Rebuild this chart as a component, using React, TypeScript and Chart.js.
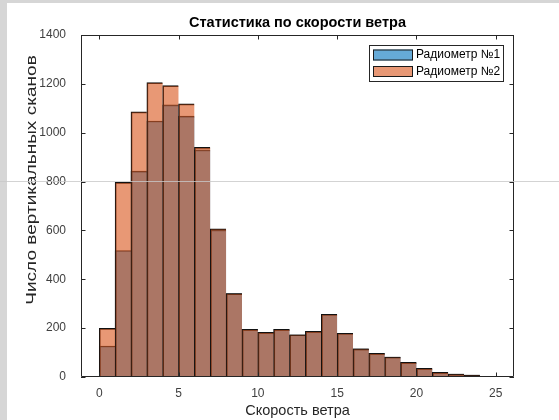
import { useEffect, useRef } from 'react';
import { Chart, registerables } from 'chart.js';

Chart.register(...registerables);

const binCenters = [0.5, 1.5, 2.5, 3.5, 4.5, 5.5, 6.5, 7.5, 8.5, 9.5, 10.5, 11.5, 12.5, 13.5, 14.5, 15.5, 16.5, 17.5, 18.5, 19.5, 20.5, 21.5, 22.5, 23.5, 24.5];
const radiometer1 = [127, 518, 843, 1048, 1114, 1068, 930, 602, 341, 195, 183, 195, 173, 187, 257, 179, 115, 97, 82, 60, 35, 19, 12, 8, 1];
const radiometer2 = [199, 797, 1085, 1205, 1193, 1118, 940, 607, 341, 195, 183, 195, 173, 187, 257, 179, 115, 97, 82, 60, 35, 19, 12, 8, 1];
const seriesLabels = ['Радиометр №1', 'Радиометр №2'];
const xTicks = [0, 5, 10, 15, 20, 25];
const yTicks = [0, 200, 400, 600, 800, 1000, 1200, 1400];
const titleText = 'Статистика по скорости ветра';
const xLabel = 'Скорость ветра';
const yLabel = 'Число вертикальных сканов';

const FONT = '"Liberation Sans", Arial, sans-serif';
const AXIS_COLOR = '#262626';

const matlabPlugin = {
  id: 'matlabDecor',
  afterDatasetsDraw(chart: any) {
    const { ctx, chartArea } = chart;
    const { left, right, top, bottom } = chartArea;
    const xs = chart.scales.x;
    const ys = chart.scales.y;
    const tl = 4.5;
    ctx.save();
    ctx.strokeStyle = AXIS_COLOR;
    ctx.lineWidth = 1;
    ctx.beginPath();
    ctx.rect(left + 0.5, top + 0.5, right - left - 1, bottom - top - 1);
    ctx.stroke();
    ctx.beginPath();
    for (const v of xTicks) {
      const px = Math.round(xs.getPixelForValue(v)) + 0.5;
      ctx.moveTo(px, bottom);
      ctx.lineTo(px, bottom - tl);
      ctx.moveTo(px, top);
      ctx.lineTo(px, top + tl);
    }
    for (const v of yTicks) {
      const py = Math.round(ys.getPixelForValue(v)) + 0.5;
      ctx.moveTo(left, py);
      ctx.lineTo(left + tl, py);
      ctx.moveTo(right, py);
      ctx.lineTo(right - tl, py);
    }
    ctx.stroke();
    ctx.restore();
  },
  afterDraw(chart: any) {
    const { ctx, chartArea } = chart;
    const cx = (chartArea.left + chartArea.right) / 2;
    ctx.save();
    // title
    ctx.fillStyle = '#000';
    ctx.font = `bold 14.5px ${FONT}`;
    ctx.textAlign = 'center';
    ctx.textBaseline = 'middle';
    ctx.fillText(titleText, cx, 23);
    // x label
    ctx.fillStyle = AXIS_COLOR;
    ctx.font = `14.5px ${FONT}`;
    ctx.fillText(xLabel, cx, 411);
    // y label
    ctx.save();
    ctx.translate(32, 180);
    ctx.rotate(-Math.PI / 2);
    ctx.scale(1.36, 1);
    ctx.font = `14px ${FONT}`;
    ctx.fillText(yLabel, 0, 0);
    ctx.restore();
    // legend
    const bx = 369, by = 45, bw = 134, bh = 36;
    ctx.fillStyle = '#fff';
    ctx.fillRect(bx, by, bw, bh);
    ctx.strokeStyle = AXIS_COLOR;
    ctx.lineWidth = 1;
    ctx.strokeRect(bx + 0.5, by + 0.5, bw, bh);
    const ds = chart.data.datasets;
    const rows = [55, 71.5];
    ds.forEach((d: any, i: number) => {
      const sy = rows[i] - 5.5;
      ctx.fillStyle = '#fff';
      ctx.fillRect(373, sy, 40, 11);
      ctx.fillStyle = d.backgroundColor;
      ctx.fillRect(373, sy, 40, 11);
      ctx.strokeStyle = '#1a1a1a';
      ctx.strokeRect(373.5, sy + 0.5, 39, 10);
      ctx.fillStyle = '#000';
      ctx.font = `12px ${FONT}`;
      ctx.textAlign = 'left';
      ctx.textBaseline = 'middle';
      ctx.fillText(d.label, 416, rows[i]);
    });
    ctx.restore();
  },
};

export default function App() {
  const ref = useRef<HTMLCanvasElement | null>(null);
  useEffect(() => {
    if (!ref.current) return;
    const lastIdx = binCenters.length - 1;
    const border = (c: any) =>
      c.dataIndex === lastIdx
        ? { left: 1, top: 1, right: 1, bottom: 0 }
        : { left: 1, top: 1, right: 0, bottom: 0 };
    const chart = new Chart(ref.current, {
      type: 'bar',
      data: {
        datasets: [
          {
            label: seriesLabels[0],
            data: binCenters.map((x, i) => ({ x, y: radiometer1[i] })),
            backgroundColor: 'rgba(0,114,189,0.6)',
            borderColor: '#111',
            borderWidth: border as any,
            borderSkipped: false,
            order: 2,
            grouped: false,
            barPercentage: 1,
            categoryPercentage: 1,
          },
          {
            label: seriesLabels[1],
            data: binCenters.map((x, i) => ({ x, y: radiometer2[i] })),
            backgroundColor: 'rgba(217,83,25,0.6)',
            borderColor: '#111',
            borderWidth: border as any,
            borderSkipped: false,
            order: 1,
            grouped: false,
            barPercentage: 1,
            categoryPercentage: 1,
          },
        ] as any,
      },
      options: {
        animation: false,
        responsive: false,
        devicePixelRatio: 1,
        layout: { padding: { left: 0, right: 45, top: 35, bottom: 0 } },
        plugins: {
          legend: { display: false },
          title: { display: false },
          tooltip: { enabled: false },
        },
        scales: {
          x: {
            type: 'linear',
            min: -1.15,
            max: 26.15,
            offset: false,
            grid: { display: false },
            border: { display: false },
            ticks: {
              padding: 1,
              autoSkip: false,
              maxRotation: 0,
              color: '#404040',
              font: { family: FONT, size: 12 },
              callback: (v: any) => String(v),
            },
            afterBuildTicks: (s: any) => {
              s.ticks = xTicks.map((v) => ({ value: v }));
            },
            afterFit: (s: any) => {
              s.height = 43;
            },
          },
          y: {
            type: 'linear',
            min: 0,
            max: 1400,
            grid: { display: false },
            border: { display: false },
            ticks: {
              padding: 7,
              color: '#404040',
              font: { family: FONT, size: 12 },
              callback: (v: any) => String(v),
            },
            afterBuildTicks: (s: any) => {
              s.ticks = yTicks.map((v) => ({ value: v }));
            },
            afterFit: (s: any) => {
              s.width = 81;
            },
          },
        },
      } as any,
      plugins: [matlabPlugin],
    });
    return () => chart.destroy();
  }, []);

  return (
    <div style={{ position: 'fixed', left: 0, top: 0, width: 559, height: 420, background: '#fff', overflow: 'hidden' }}>
      <canvas ref={ref} width={559} height={420} style={{ display: 'block', width: 559, height: 420 }} />
      <div style={{ position: 'absolute', left: 0, top: 0, width: 7, height: 420, background: '#d6d6d6' }} />
      <div style={{ position: 'absolute', left: 0, top: 0, width: 559, height: 3, background: '#d6d6d6' }} />
      <div style={{ position: 'absolute', left: 0, top: 181, width: 559, height: 1, background: 'rgba(200,200,200,0.8)' }} />
    </div>
  );
}
